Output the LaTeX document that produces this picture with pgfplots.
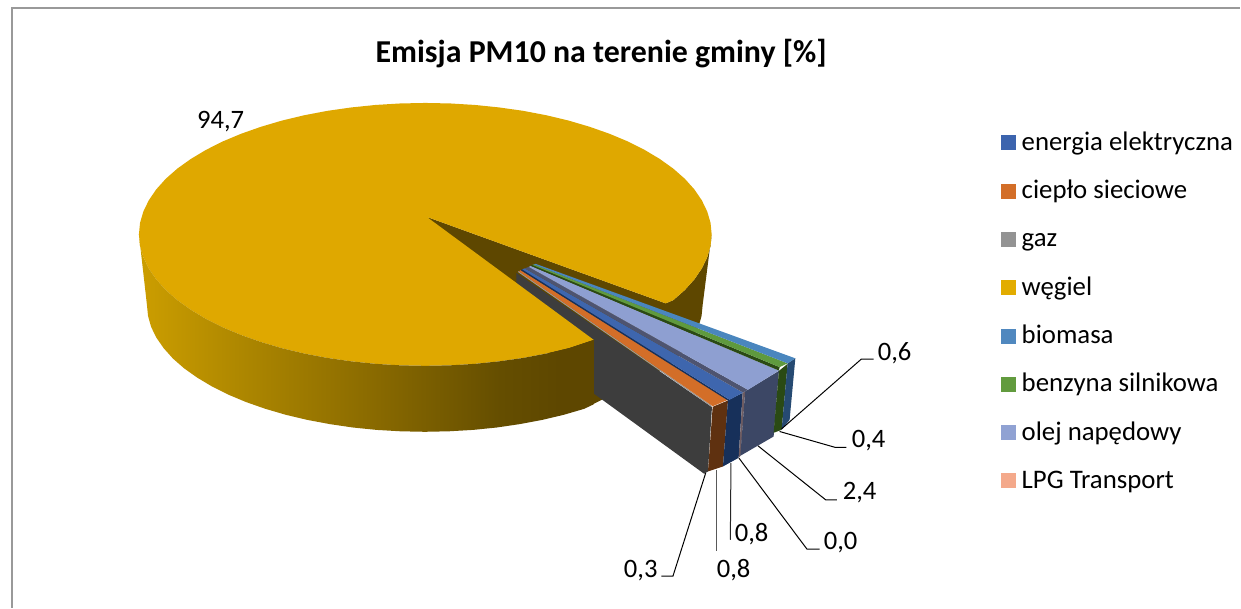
\documentclass[border=0pt]{standalone}
\usepackage{pgfplots}
\pgfplotsset{compat=1.18}
\usepackage{fontspec}
\setmainfont{Carlito}

\definecolor{topgold}{HTML}{DFA800}
\definecolor{wallgold}{HTML}{5E4700}
\definecolor{rimA}{HTML}{CC9E00}
\definecolor{rimB}{HTML}{AB8500}
\definecolor{rimC}{HTML}{8C6C00}
\definecolor{rimD}{HTML}{654E00}
\pgfdeclarehorizontalshading{sidegold}{100bp}{
  color(0bp)=(rimA);
  color(25bp)=(rimA);
  color(37.2bp)=(rimB);
  color(49.8bp)=(rimC);
  color(64.7bp)=(rimD);
  color(71.3bp)=(wallgold);
  color(100bp)=(wallgold)}

\begin{document}
\begin{tikzpicture}
\begin{axis}[
    width=1241pt, height=608pt, scale only axis,
    xmin=0, xmax=1241, ymin=0, ymax=608, y dir=reverse,
    hide axis, clip=false,
    legend image code/.code={\fill[#1, draw=none] (0pt,-6pt) rectangle (15pt,9pt); \path (21pt,0pt);},
    legend cell align=left,
    legend style={at={(axis cs:1001,132.5)}, anchor=north west, draw=none, fill=none,
        inner sep=0pt, outer sep=0pt, row sep=24.3pt,
        font=\fontsize{26.8}{30}\selectfont,
        nodes={inner sep=0pt, outer sep=0pt, text height=18pt, text depth=6pt}},
]

% chart frame
\addplot[forget plot, draw=none] coordinates {(0,0) (1241,608)};
\addplot[forget plot, draw=black!40, line width=1.2pt] coordinates {(12,608) (12,8) (1241,8)};

% dark inner wall and right hand rim
\addplot[forget plot, draw=none, fill=wallgold] coordinates {
  (427,217) (666,303.5) (673.6,300.3) (685.2,290.1) (694.7,279.5) (702.2,268.5)
  (707.6,257.3) (710.9,246) (712,234.5) (703,305) (701.9,316.1) (698.8,327.1)
  (693.5,337.9) (686.2,348.4) (677,358.7) (665.8,368.5) (594,404)
};

% exploded slices: outer faces
\addplot[forget plot, draw=none, fill=black!76] coordinates {
  (516.5,273) (712.3,407.3) (708.3,471.7) (704.5,474) (560,369) (516.5,283) };
\addplot[forget plot, draw=none, fill={rgb,255:red,95;green,49;blue,16}] coordinates {
  (713,407) (728.3,400.7) (723.3,466.7) (708.3,471.7) };
\addplot[forget plot, draw=none, fill={rgb,255:red,23;green,48;blue,90}] coordinates {
  (728.3,400.5) (743,393) (739,458) (723.3,466.7) };
\addplot[forget plot, draw=none, fill={rgb,255:red,110;green,92;blue,98}] coordinates {
  (743,393) (745.5,391.5) (741,456) (739,458) };
\addplot[forget plot, draw=none, fill={rgb,255:red,60;green,71;blue,101}] coordinates {
  (745.5,391.5) (779.3,371) (774,436.7) (740.7,456) };
\addplot[forget plot, draw=none, fill={rgb,255:red,42;green,74;blue,20}] coordinates {
  (779.3,371) (788,364) (782,430) (774,433) };
\addplot[forget plot, draw=none, fill={rgb,255:red,38;green,74;blue,114}] coordinates {
  (788,363.5) (795.7,358.5) (790,420) (782,430) };

% exploded slices: top faces
\addplot[forget plot, draw=none, fill={rgb,255:red,154;green,154;blue,154}] coordinates {
  (518,272) (519,271.3) (711,405) (712.3,407.3) };
\addplot[forget plot, draw=none, fill={rgb,255:red,211;green,110;blue,40}] coordinates {
  (519,271.5) (521,270.3) (728.3,400) (713,406.5) (711,405) };
\addplot[forget plot, draw=none, fill={rgb,255:red,23;green,48;blue,90}] coordinates {
  (521,270.3) (523,269.3) (730,400) (728.3,400.7) };
\addplot[forget plot, draw=none, fill={rgb,255:red,62;green,102;blue,174}] coordinates {
  (522.5,269.5) (525,268.5) (743.3,392.7) (730,400) };
\addplot[forget plot, draw=none, fill={rgb,255:red,78;green,84;blue,112}] coordinates {
  (525,268.5) (529,267) (748.3,390) (743.3,392.7) };
\addplot[forget plot, draw=none, fill={rgb,255:red,142;green,159;blue,209}] coordinates {
  (529,267) (531,266) (779.3,370.7) (748.3,390) };
\addplot[forget plot, draw=none, fill={rgb,255:red,42;green,74;blue,20}] coordinates {
  (531,266) (532.5,265) (780,367.3) (779.3,370.7) };
\addplot[forget plot, draw=none, fill={rgb,255:red,95;green,154;blue,62}] coordinates {
  (532.5,265) (534,264.5) (788,363.5) (780,367.3) };
\addplot[forget plot, draw=none, fill={rgb,255:red,74;green,134;blue,190}] coordinates {
  (534,264.5) (536,264) (795.7,358.5) (788,363.5) };

% coal slice, top face
\addplot[forget plot, draw=none, fill=topgold] coordinates {
  (427,217) (666,303.5) (673.6,300.3) (685.2,290.1) (694.7,279.5) (702.2,268.5)
  (707.6,257.3) (710.9,246) (712,234.5) (710.9,223) (707.6,211.7) (702.2,200.5)
  (694.7,189.5) (685.2,178.9) (673.6,168.7) (660.2,159.1) (645,150) (628.1,141.5)
  (609.7,133.8) (589.8,126.8) (568.8,120.6) (546.6,115.3) (523.5,110.9) (499.6,107.5)
  (475.2,105) (450.5,103.5) (425.5,103) (400.5,103.5) (375.8,105) (351.4,107.5)
  (327.5,110.9) (304.4,115.3) (282.2,120.6) (261.2,126.8) (241.3,133.8) (222.9,141.5)
  (206,150) (190.8,159.1) (177.4,168.7) (165.8,178.9) (156.3,189.5) (148.8,200.5)
  (143.4,211.7) (140.1,223) (139,234.5) (140.1,246) (143.4,257.3) (148.8,268.5)
  (156.3,279.5) (165.8,290.1) (177.4,300.3) (190.8,309.9) (206,319) (222.9,327.5)
  (241.3,335.2) (261.2,342.2) (282.2,348.4) (304.4,353.7) (327.5,358.1) (351.4,361.5)
  (375.8,364) (400.5,365.5) (425.5,366) (450.5,365.5) (475.2,364) (499.6,361.5)
  (523.5,358.1) (546.6,353.7) (568.8,348.4) (594,340)
};

% coal slice, front rim
\addplot[forget plot, draw=none, shade, shading=sidegold] coordinates {
  (139,234.5) (140.1,246) (143.4,257.3) (148.8,268.5) (156.3,279.5) (165.8,290.1)
  (177.4,300.3) (190.8,309.9) (206,319) (222.9,327.5) (241.3,335.2) (261.2,342.2)
  (282.2,348.4) (304.4,353.7) (327.5,358.1) (351.4,361.5) (375.8,364) (400.5,365.5)
  (425.5,366) (450.5,365.5) (475.2,364) (499.6,361.5) (523.5,358.1) (546.6,353.7)
  (568.8,348.4) (594,340) (594,404.5) (584.5,409) (564,415) (542.5,420.1) (520.1,424.3)
  (497,427.7) (473.3,430.1) (449.2,431.5) (425,432) (400.8,431.5) (376.7,430.1)
  (353,427.7) (329.9,424.3) (307.5,420.1) (286,415) (265.5,409) (246.3,402.3)
  (228.4,394.8) (212,386.6) (197.3,377.8) (184.2,368.5) (173,358.7) (163.8,348.4)
  (156.5,337.9) (151.2,327.1) (148.1,316.1) (147,305)
};

% leader lines
\addplot[forget plot, black, line width=1pt] coordinates {(781.7,429.3) (861.7,359.3) (874,359.3)};
\addplot[forget plot, black, line width=1pt] coordinates {(780,431.7) (836,447.7) (846.7,447.7)};
\addplot[forget plot, black, line width=1pt] coordinates {(758.3,446) (826,500) (837.3,500)};
\addplot[forget plot, black, line width=1pt] coordinates {(739.3,458.3) (807.3,549.3) (820,549.3)};
\addplot[forget plot, black!85, line width=1pt] coordinates {(731.3,463.3) (730.7,540)};
\addplot[forget plot, black!65, line width=1pt] coordinates {(716.7,470) (716.7,551)};
\addplot[forget plot, black, line width=1pt] coordinates {(706,473.3) (673.3,576.3) (661.7,576.3)};

% data labels
\begin{scope}[every node/.style={anchor=base west, inner sep=0pt, font=\fontsize{26.6}{30}\selectfont}]
\node at (axis cs:197,129) {94,7};
\node at (axis cs:878,361) {0,6};
\node at (axis cs:852,448) {0,4};
\node at (axis cs:843,500) {2,4};
\node at (axis cs:824,550) {0,0};
\node at (axis cs:735,542) {0,8};
\node at (axis cs:717,578) {0,8};
\node at (axis cs:624,578) {0,3};
\end{scope}

% title
\node[anchor=base, inner sep=0pt, font=\fontsize{31.9}{36}\selectfont\bfseries] at (axis cs:601.5,63) {Emisja PM10 na terenie gminy [\%]};

% legend
\addlegendimage{fill={rgb,255:red,60;green,100;blue,174}}
\addlegendimage{fill={rgb,255:red,211;green,110;blue,40}}
\addlegendimage{fill={rgb,255:red,147;green,147;blue,147}}
\addlegendimage{fill={rgb,255:red,226;green,172;blue,0}}
\addlegendimage{fill={rgb,255:red,80;green,136;blue,191}}
\addlegendimage{fill={rgb,255:red,98;green,155;blue,62}}
\addlegendimage{fill={rgb,255:red,144;green,162;blue,211}}
\addlegendimage{fill={rgb,255:red,244;green,169;blue,139}}
\legend{energia elektryczna, ciepło sieciowe, gaz, węgiel, biomasa, benzyna silnikowa, olej napędowy, LPG Transport}
\end{axis}
\end{tikzpicture}
\end{document}
